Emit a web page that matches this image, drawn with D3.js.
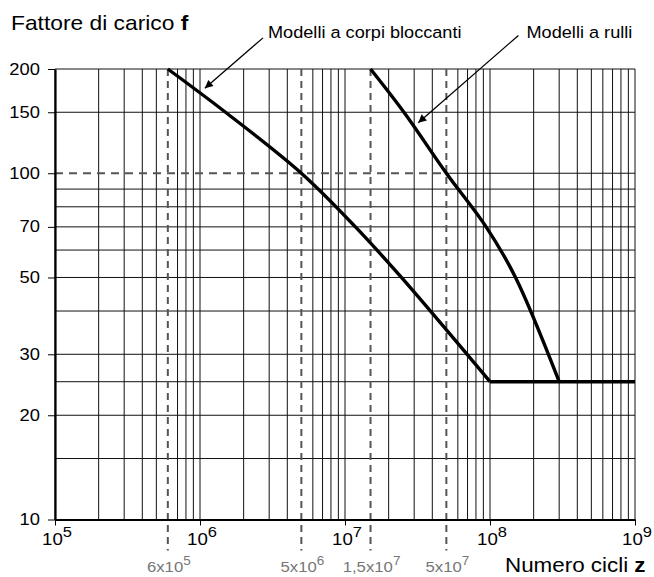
<!DOCTYPE html>
<html>
<head>
<meta charset="utf-8">
<script src="https://d3js.org/d3.v7.min.js"></script>
<style>
body { margin: 0; background: #fff; }
svg text { font-family: "Liberation Sans", Arial, Helvetica, sans-serif; fill: #000; }
</style>
</head>
<body>
<div id="chart"></div>
<script>
// values
const decades = [5, 6, 7, 8, 9];
const yTicks = [10, 20, 30, 50, 70, 100, 150, 200];
const yGrid = [10, 15, 20, 25, 30, 40, 50, 60, 70, 80, 90, 100, 150, 200];
const refZ = [6e5, 5e6, 1.5e7, 5e7];
const refBase = ["6x10", "5x10", "1,5x10", "5x10"];
const refExp = ["5", "6", "7", "7"];
const refF = 100;

// Modelli a corpi bloccanti
const bloccantiZ = [6e5, 1.5e6, 5e6, 1.18e7, 2.45e7, 1e8];
const bloccantiF = [200, 150, 100, 70, 50, 25];
// Modelli a rulli
const rulliZ = [1.5e7, 2.55e7, 5e7, 9.4e7, 1.5e8, 3e8];
const rulliF = [200, 150, 100, 70, 50, 25];
// flat tail shared by both
const tailZ = [1e8, 1e9];
const tailF = [25, 25];

// annotation arrows: [start, tip] in data units
const arrowZ = [[2.72e6, 1.08e6], [1.57e8, 3.2e7]];
const arrowF = [[246, 176], [250, 140]];
const arrowText = ["Modelli a corpi bloccanti", "Modelli a rulli"];

const W = 654, H = 577;
const margin = {top: 69, left: 55};
const width = 580, height = 450.5;

const svg = d3.select("#chart").append("svg")
  .attr("width", W).attr("height", H);

const x = d3.scaleLog().domain([1e5, 1e9]).range([margin.left, margin.left + width]);
const y = d3.scaleLog().domain([10, 200]).range([margin.top + height, margin.top]);

// stretched text helper (reference type is a little wider than Arial)
function label(parent, px, py, sx, size, anchor) {
  return parent.append("g")
      .attr("transform", `translate(${px},${py}) scale(${sx},1)`)
    .append("text")
      .attr("font-size", size)
      .attr("text-anchor", anchor || "start");
}

// vertical grid
const vLines = [];
decades.slice(0, -1).forEach(d => {
  for (let k = 1; k <= 9; k++) vLines.push(k * Math.pow(10, d));
});
vLines.push(1e9);
svg.append("g").selectAll("line")
  .data(vLines.filter(v => !refZ.some(r => Math.abs(r - v) / v < 1e-6)))
  .join("line")
    .attr("x1", d => x(d)).attr("x2", d => x(d))
    .attr("y1", y(200)).attr("y2", y(10))
    .attr("stroke", "#111").attr("stroke-width", 1);

// horizontal grid
svg.append("g").selectAll("line")
  .data(yGrid)
  .join("line")
    .attr("x1", d => d === refF ? x(refZ[3]) : x(1e5))
    .attr("x2", x(1e9))
    .attr("y1", d => y(d)).attr("y2", d => y(d))
    .attr("stroke", "#111").attr("stroke-width", 1);

// dashed reference lines
svg.append("g").selectAll("line")
  .data(refZ)
  .join("line")
    .attr("x1", d => x(d)).attr("x2", d => x(d))
    .attr("y1", y(200)).attr("y2", y(10) + 31)
    .attr("stroke", "#555").attr("stroke-width", 2)
    .attr("stroke-dasharray", "7,5");
svg.append("line")
  .attr("x1", x(1e5)).attr("x2", x(refZ[3]))
  .attr("y1", y(refF)).attr("y2", y(refF))
  .attr("stroke", "#555").attr("stroke-width", 2)
  .attr("stroke-dasharray", "8,6");

// axes
svg.append("g")
  .attr("transform", `translate(${margin.left},0)`)
  .call(d3.axisLeft(y).tickValues(yTicks).tickSize(7).tickSizeOuter(0).tickFormat(""))
  .call(g => g.select(".domain").attr("stroke-width", 2.2));
svg.append("g")
  .attr("transform", `translate(0,${margin.top + height})`)
  .call(d3.axisBottom(x).tickValues(decades.map(d => Math.pow(10, d))).tickSize(6).tickSizeOuter(0).tickFormat(""))
  .call(g => g.select(".domain").attr("stroke-width", 2));

// y tick labels
yTicks.forEach(v => {
  label(svg, 40, y(v) + 5.5, 1.08, 17, "end").text(v);
});

// x tick labels
decades.forEach(d => {
  const t = label(svg, x(Math.pow(10, d)) + 2, 545, 1.1, 17, "middle");
  t.append("tspan").text("10");
  t.append("tspan").attr("dy", -8).attr("font-size", 15).text(d);
});

// reference labels
refZ.forEach((v, i) => {
  const t = label(svg, x(v) + 1, 572, 1.08, 15.5, "middle")
    .style("fill", "#777");
  t.append("tspan").text(refBase[i]);
  t.append("tspan").attr("dy", -7).attr("font-size", 12.5).text(refExp[i]);
});

// curves
const line = d3.line().x(d => x(d[0])).y(d => y(d[1])).curve(d3.curveCatmullRom.alpha(0.5));
[[bloccantiZ, bloccantiF], [rulliZ, rulliF]].forEach(([zs, fs]) => {
  svg.append("path")
    .datum(d3.zip(zs, fs))
    .attr("d", line)
    .attr("fill", "none").attr("stroke", "#000")
    .attr("stroke-width", 3.4).attr("stroke-linejoin", "round");
});
svg.append("path")
  .datum(d3.zip(tailZ, tailF))
  .attr("d", d3.line().x(d => x(d[0])).y(d => y(d[1])))
  .attr("fill", "none").attr("stroke", "#000").attr("stroke-width", 3.4);

// arrows
svg.append("defs").append("marker")
    .attr("id", "head").attr("viewBox", "0 0 10 10")
    .attr("refX", 10).attr("refY", 5)
    .attr("markerWidth", 10).attr("markerHeight", 8)
    .attr("markerUnits", "userSpaceOnUse")
    .attr("orient", "auto")
  .append("path").attr("d", "M0,0L10,5L0,10Z").attr("fill", "#000");
arrowZ.forEach((zz, i) => {
  svg.append("line")
    .attr("x1", x(zz[0])).attr("y1", y(arrowF[i][0]))
    .attr("x2", x(zz[1])).attr("y2", y(arrowF[i][1]))
    .attr("stroke", "#000").attr("stroke-width", 1.3)
    .attr("marker-end", "url(#head)");
});
label(svg, 268, 37.5, 1.1, 16.5).text(arrowText[0]);
label(svg, 526.5, 37.5, 1.1, 16.5).text(arrowText[1]);

// axis titles
const yt = label(svg, 11, 29.5, 1.14, 20);
yt.append("tspan").text("Fattore di carico ");
yt.append("tspan").attr("font-weight", "bold").text("f");
const xt = label(svg, 505, 572, 1.12, 20);
xt.append("tspan").text("Numero cicli ");
xt.append("tspan").attr("font-weight", "bold").text("z");
</script>
</body>
</html>
